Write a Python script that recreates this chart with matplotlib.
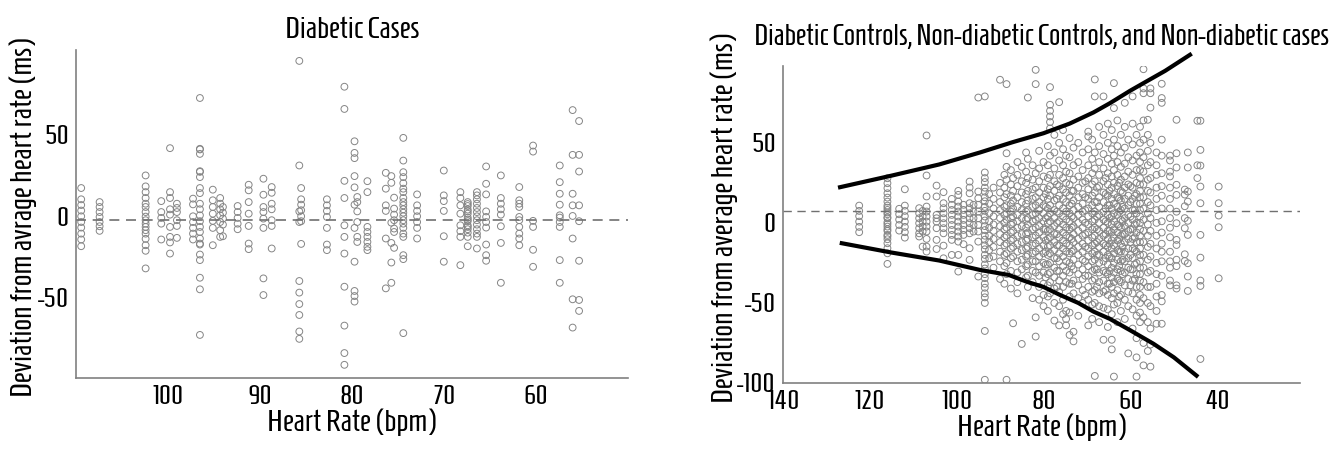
import numpy as np
import matplotlib
matplotlib.use("Agg")
import matplotlib.pyplot as plt

plt.rcParams['font.family'] = ['Homenaje', 'DejaVu Sans']
plt.rcParams['axes.unicode_minus'] = False

# Left panel: heart rate columns and the deviations read in each column
left_hr = [109.4, 107.4, 102.4, 100.7, 99.75, 99.0, 97.25, 96.5, 95.1, 94.3, 94.0,
           92.4, 91.2, 89.6, 88.7, 85.7, 85.5, 82.7, 80.8, 79.7, 79.4, 78.3,
           76.3, 75.7, 75.4, 74.4, 72.9, 70.0, 68.2, 67.4, 66.4, 65.4, 63.8,
           61.8, 60.3, 57.4, 56.0, 55.3]
left_dev = [
    [17.3, 10.4, 6.9, 3.5, 0, -3.5, -6.9, -10.6, -14.2, -18.3],
    [8.7, 5.7, 2.6, -0.4, -3.5, -6.1, -8.9],
    [25, 18.3, 14.8, 11.2, 7.7, 5.7, 2.6, -0.2, -2.4, -4.5, -6.5, -8.5, -10.6, -13.8, -17.7, -21.1, -31.9],
    [9.3, 2.6, -1, -4.5, -14.2],
    [41.7, 14.8, 11.2, 4.3, 1, -6.5, -12.6, -16, -22.8],
    [7.7, 5.1, 2.6, -2.4, -5.9, -13.2],
    [10.8, 7.3, 0, -3.5, -7.1, -10.6, -14.2],
    [72.4, 41.3, 40.9, 38.2, 27.6, 27.2, 24, 17.3, 14.2, 7.7, 4.3, 0.6, -3, -6.5, -9.6, -13.6,
     -16.7, -17.3, -23.4, -26.8, -37.6, -44.7, -72.6],
    [16.3, 9.8, 5.7, 1.6, -2.8, -7.1, -17.7],
    [11.2, 7.7, 4.3, 0.6, -3.5, -8.5, -12.6],
    [5.7, 2.2, -1.4, -5.1, -12.2],
    [6.3, 2.6, -1, -4.5, -7.9],
    [19.3, 15.9, 8.7, 1.6, -5.9, -16.7, -20.1],
    [23, 13.2, 5.7, 2.6, -1.4, -7.1, -38, -48.2],
    [17.9, 14.4, 7.7, 4.3, -2.4, -5.9, -19.7],
    [95.1, 31.1, 3, -3.5, -39.6, -46.7, -53.7, -60.4, -70.5, -75],
    [17.3, 10.4, 7.1, 3.7, 0, -3, -16.9],
    [10.4, 6.7, 3.3, -0.4, -7.1, -17.3, -20.7],
    [79.3, 65.7, 21.7, 11.2, -5.5, -12.6, -22.8, -43.1, -66.9, -83.7, -90.9],
    [45.9, 38.8, 35.6, 24.6, 17.7, 7.1, -7.1, -27.8, -45.7, -48.8, -52.2],
    [11.8, 8.7, 3, -3.5, -12.6, -15.7],
    [21.5, 14.8, -6.5, -9.6, -12.6, -15.7, -18.7, -20.7],
    [26.6, 16.9, 6.7, 3.3, -13.6, -44.1],
    [24.6, 20.5, -3.9, -16.3, -28.3, -40.7],
    [11.4, 4.7, 1, -2.4, -7.5, -9.6, -19.3],
    [48, 34.1, 27, 24, 20.3, 16.9, 14.8, 11.2, 8.7, 6.7, 4.3, 2.2, 0, -2.4, -4.5, -7.1, -10.6,
     -12.6, -23.8, -26.2, -71.5],
    [13.4, 6.7, 3.3, 0, -3.5, -7.1, -13.6],
    [28, 12.8, 9.3, 3.3, -12.2, -27.8],
    [14.8, 11.2, 6.7, 1.6, -5.5, -9.1, -12.6, -29.9],
    [8.7, 6.3, 4.1, 1.6, -0.8, -3, -5.5, -7.9, -10, -12.6, -18.3, 7.5, 3, -2, -6.5],
    [14.8, 12.8, 10.4, 7.7, 5.1, 2.6, 0, -2.4, -5.1, -7.9, -10.6, -12.6, -19.7],
    [30.5, 19.9, 13.4, 3, -0.4, -3.5, -6.9, -17.3, -23.8, -27.2],
    [25, 11.2, 7.7, 4.3, 1, -6.1, -16.3, -40.7],
    [17.9, 9.8, 7.7, 5.7, -0.4, -2.4, -6.5, -10.6, -13.6, -17.7],
    [43.3, 39.6, -2.8, -6.5, -20.5, -30.9],
    [31.1, 20.9, 13.8, 7.1, 0.6, -0.8, -3.5, -6.5, -26.8, -40.7],
    [65, 37.6, 13.8, 6.7, 0.2, -13.6, -50.8, -68.1],
    [58.3, 37.6, 27.4, 6.7, -3, -27.2, -51.2, -57.9],
]
left_mean = -2.2

# Right panel: heart rate columns and deviations
right_hr = [122.4, 115.9, 113.2, 111.9, 108.6, 107.8, 106.9, 104.6, 103.0, 101.1, 99.6,
            98.4, 97.0, 96.1, 95.0, 93.5, 92.5, 91.5, 90.0, 89.0, 88.5, 87.5, 87.0,
            86.0, 85.0, 84.0, 83.6, 82.5, 81.8, 81.0, 80.0, 79.0, 78.5, 77.5, 76.4,
            75.5, 74.8, 74.0, 73.1, 72.0, 71.0, 69.7, 68.8, 68.2, 67.2, 66.2, 65.2,
            64.3, 63.8, 63.0, 62.2, 61.3, 60.5, 59.5, 58.6, 57.8, 57.0, 56.0, 55.4,
            54.0, 52.8, 50.9, 49.4, 47.5, 46.8, 44.6, 43.9, 39.7,
            79.5, 76.9, 73.5, 70.4, 67.7, 65.7, 64.8, 62.6, 61.8, 60.0, 59.0]
right_dev = [
    [10.8, 7.5, 4.2, 0.8, -2.5, -5.8],
    [27.9, 24.8, 21.7, 18.5, 15.8, 13.3, 10.8, 8.1, 5.4, 2.9, 0.4, -2.3, -5, -7.5, -10.2,
     -12.7, -15.8, -19, -25.6, 9.5, 6.5, 3.5, -0.8, -4, -8.5],
    [8.8, 5.4, 2.1, -1.3, -4.8],
    [21, 10.8, 7.5, 4.2, 0.8, -2.5, -5.8, -9.2],
    [9.2, 6, 2.9, -0.2, -3.3, -6.5, -8.5],
    [7.5, 4, 0.8, -2.3, -5.4, -14.8],
    [54.6, 29.6, 16.5, 10.2, 7.1, 4, 0.8, -2.3, -5.4, -10, -14.8, -17.9],
    [23.3, 16.5, 5, 2.9, 0.8, -3.3, -10.6, -16.3],
    [19.2, 12.3, 9.2, 6, 2.9, -0.2, -3.3, -6.5, -14.2, -22.1],
    [15, 11.3, 8.1, 5, 1.9, -1.3, -4.4, -7.5, -10.6, -20],
    [20, 17.5, 13.3, 10.2, 7.1, 4, 0.8, -2.3, -5.4, -8.5, -11.7, -20, -30.4],
    [11.3, 8.1, 5, 1.9, -1.3, -4.4, -7.5, -13.3],
    [25.8, 22.1, 18.5, 12.3, 9.2, 6, 2.9, -0.2, -3.3, -6.5, -15.8, -23.1],
    [11.3, 7.1, 2.9, -1.3, -5.4],
    [19.6, 15.4, 11.3, 7.1, 2.9, -1.3, -5.4, -11.7, -33.5, 78.3],
    [31.5, 28, 25.5, 22, 19.5, 16, 13.5, 10, 7.5, 4, 1.5, -2, -4.5, -8, -10.5, -14, -16.5,
     -20, -22.5, -26, -28.5, -32, -34.5, -38, -40.5, -44, -46.5, -50, 79, -67.5, -98],
    [18, 12, 6, 1, -3, -8, -12, -17, -22],
    [22, 15, 9, 4, -1, -5, -10, -15, -21, -28],
    [89.4, 25, 19, 13, 8, 3, -2, -7, -12, -18, -24, -35],
    [30, 22, 16, 10, 5, 0, -4, -9, -14, -20, -27, -38],
    [86.7, 43.5, 35, 27, 18, 11, 6, 2, -3, -8, -13, -19, -25, -32, -98],
    [33, 24, 17, 12, 7, 3, -1, -6, -11, -16, -22, -30, -41],
    [-62.7, 28, 20, 14, 9, 4, 0, -5, -10, -15, -21],
    [38, 30, 23, 16, 10, 5, 1, -3, -8, -13, -18, -24, -31, -37, -44],
    [-75.6, 35, 26, 19, 13, 8, 3, -2, -7, -12, -17, -23, -29],
    [44, 32, 25, 18, 12, 7, 2, -3, -7, -11, -16, -21, -27, -34],
    [78.3, 40, 28, 20, 14, 8, 3, -1, -6, -10, -15, -20, -26, -33, -40],
    [36, 27, 21, 15, 10, 5, 1, -4, -9, -14, -19, -24, -30, -37, -47],
    [95.6, 86.7, -59, -71, 31, 22, 16, 11, 6, 2, -3, -8, -13, -18, -24, -31],
    [45, 34, 26, 19, 13, 8, 3, -2, -6, -11, -16, -21, -27, -33, -40, -48],
    [38, 29, 22, 16, 11, 6, 1, -4, -9, -14, -19, -25, -31, -38, -45, -52],
    [48, 36, 28, 21, 15, 9, 4, 0, -5, -10, -15, -20, -26, -32, -39, -46, -55],
    [84.8, 73.8, 70, 66.5, 63, 59, 42, 30, 23, 17, 11, 6, 1, -4, -9, -14, -19, -25, -31, -37, -44],
    [55, 44, 34, 26, 20, 14, 8, 3, -2, -7, -12, -17, -22, -28, -34, -41, -50, -61],
    [75.4, 50, 39, 30, 23, 17, 11, 6, 1, -4, -9, -14, -19, -24, -30, -36, -43, -52, -64],
    [58, 46, 36, 28, 21, 15, 9, 4, -1, -6, -11, -16, -21, -27, -33, -40, -48, -57],
    [-55, -60, -64, 42, 32, 25, 19, 13, 7, 2, -3, -8, -13, -18, -24, -30, -37],
    [53, 41, 31, 24, 17, 11, 6, 1, -4, -9, -14, -19, -25, -31, -38, -46, -56, -70],
    [-68, -74, 47, 36, 27, 20, 14, 8, 3, -2, -7, -12, -17, -23, -29, -36, -44],
    [50, 38, 29, 22, 16, 10, 5, 0, -5, -10, -15, -20, -26, -32, -39, -47, -58],
    [44, 33, 25, 18, 12, 7, 2, -3, -8, -13, -18, -23, -29, -35, -42, -50],
    [57, 54, -64, 46, 36, 28, 21, 15, 9, 4, -1, -6, -11, -16, -21, -27, -33, -40, -48],
    [52, 40, 31, 24, 17, 11, 6, 1, -4, -9, -14, -19, -24, -30, -36, -43, -51, -60],
    [89.6, 79, -95.6, 44, 34, 26, 19, 13, 7, 2, -3, -8, -13, -18, -23, -29, -35, -42, -50],
    [60, 48, 38, 30, 23, 16, 10, 5, 0, -5, -10, -15, -20, -25, -31, -37, -44, -52, -62],
    [79, 55, 43, 34, 26, 19, 13, 7, 2, -3, -8, -13, -18, -24, -30, -36, -43, -53, -73],
    [62, 50, 40, 31, 24, 17, 11, 5, 0, -5, -10, -15, -20, -26, -32, -38, -45, -54, -65],
    [58, 46, 37, 29, 22, 15, 9, 4, -1, -6, -11, -16, -22, -28, -34, -40, -47, -57, -73, -79],
    [87.3, 71.7, 52, 42, 33, 25, 18, 12, 6, 1, -4, -9, -14, -19, -25, -31, -37, -44, -51, -96],
    [64, 48, 38, 30, 23, 16, 10, 5, -1, -6, -11, -17, -23, -29, -35, -42, -50, -62],
    [55, 44, 35, 27, 20, 14, 8, 2, -3, -8, -13, -18, -24, -30, -37, -45, -55],
    [75, 60, 47, 37, 29, 22, 15, 9, 3, -2, -7, -12, -18, -24, -31, -39, -48, -60],
    [52, 41, 32, 24, 17, 11, 5, 0, -5, -10, -16, -22, -28, -35, -43, -52, -81.5],
    [79, 62, 49, 39, 30, 22, 15, 8, 2, -4, -10, -16, -22, -29, -36, -44, -54, -66],
    [55, 42, 33, 25, 18, 12, 6, 0, -6, -12, -18, -25, -32, -40, -48, -58, -72, -84, -96],
    [60, 50, 44, 38, 33, 28, 24, 20, 16, 12, 8, 4, 0, -4, -8, -12, -16, -20, -24, -28, -32,
     -36, -40, -45, -50, -56, -62],
    [96, 84, 81, 64, 52, 41, 32, 24, 16, 9, 2, -5, -12, -20, -28, -37, -47, -59, -75, -89],
    [64.4, 55, 45, 36, 27, 20, 13, 6, -1, -8, -15, -23, -31, -40, -50, -62, -80],
    [72, 84, 81, 50, 38, 28, 19, 11, 3, -5, -13, -21, -30, -40, -52, -66, -76, -89.8],
    [44, 36, 30, 22, 15, 8, 0, -8, -16, -25, -32, -38, -46, -55, -63],
    [86.9, 78, 75, 52, 42, 31, 23, 17, 9, 1, -6, -13, -18, -24, -33, -45, -49, -63],
    [42, 39, 32, 29, 22, 15, 9, 3, -3, -9, -18, -24, -28, -36, -39],
    [64.4, 43.5, 34.6, 23.8, 17.5, 7, -0.2, -10.6, -13.8, -23, -27, -39, -41],
    [20.8, 17.7, 10.4, 3, -3.3, -19.6, -23.8],
    [44, 34.6, 19.6, 13.3, 1.3, -7.5, -25.2, -33.5, -42.5],
    [63.8, 36, 28],
    [63.8, 45.6, 35.8, 22.7, 12.3, -7.5, -21.7, -36, -39.4, -85],
    [22.7, 12.3, 4.6, -2.7, -34.6],
    # extra points in the crowded core
    [18, 10, 3, -4, -11, -18, -26, -34],
    [24, 15, 7, 0, -7, -14, -22, -30, -40],
    [20, 12, 4, -3, -10, -18, -27, -38],
    [26, 16, 8, 0, -7, -15, -24, -33, -45],
    [22, 13, 4, -4, -12, -20, -29, -40],
    [28, 18, 9, 1, -7, -14, -22, -31, -42],
    [20, 11, 3, -5, -13, -21, -30, -38],
    [25, 15, 7, -2, -10, -18, -27, -36, -46],
    [19, 10, 1, -7, -15, -23, -32],
    [23, 13, 4, -4, -12, -20, -29, -39],
    [17, 8, -1, -9, -17, -26, -35],
]
right_mean = 7.5

# limits of agreement curves
upper_hr = [126.8, 115, 104, 94.6, 87, 80, 74, 68.5, 64.7, 60.1, 57, 52, 46.3]
upper_dev = [22.3, 29.5, 36.5, 44, 50.5, 56, 62, 69, 74.8, 82.5, 87.3, 95, 105]
lower_hr = [126.4, 115, 104, 94.6, 88, 83.9, 80, 76.2, 72, 68.5, 64.7, 60.1, 54.7, 50, 44.8]
lower_dev = [-12.7, -18.5, -23.5, -29.4, -32.5, -36.7, -40, -45, -50, -55.4, -60, -67, -75.5, -84, -95.4]

left_xticks = [100, 90, 80, 70, 60]
left_yticks = [50, 0, -50]
right_xticks = [140, 120, 100, 80, 60, 40]
right_yticks = [50, 0, -50, -100]


def flatten(hr, dev):
    xs = np.concatenate([np.full(len(d), h) for h, d in zip(hr, dev)])
    ys = np.concatenate([np.array(d, dtype=float) for d in dev])
    return xs, ys


def style_axes(ax):
    for s in ['top', 'right']:
        ax.spines[s].set_visible(False)
    for s in ['left', 'bottom']:
        ax.spines[s].set_color('#808080')
        ax.spines[s].set_linewidth(1.2)
    ax.tick_params(length=0, labelsize=19, pad=5)


fig = plt.figure(figsize=(13.37, 4.49), dpi=100)

# left panel
ax1 = fig.add_axes([0.0566, 0.158, 0.413, 0.730])
x1, y1 = flatten(left_hr, left_dev)
ax1.scatter(x1, y1, s=24, facecolors='none', edgecolors='#858585', linewidths=0.7)
ax1.axhline(left_mean, color='#707070', linestyle=(0, (6, 4)), linewidth=1.2)
ax1.set_xlim(110, 50)
ax1.set_ylim(-99, 101.6)
ax1.set_xticks(left_xticks)
ax1.set_yticks(left_yticks)
style_axes(ax1)
ax1.set_title('Diabetic Cases', fontsize=22, pad=9)
ax1.set_xlabel('Heart Rate (bpm)', fontsize=22, labelpad=0)
ax1.set_ylabel('Deviation from avrage heart rate (ms)', fontsize=22)
ax1.yaxis.set_label_coords(-0.07, 0.49)

# right panel
ax2 = fig.add_axes([0.5854, 0.147, 0.3869, 0.706])
x2, y2 = flatten(right_hr, right_dev)
ax2.scatter(x2, y2, s=24, facecolors='none', edgecolors='#858585', linewidths=0.7)
ax2.axhline(right_mean, color='#707070', linestyle=(0, (6, 4)), linewidth=1.0)
ax2.plot(upper_hr, upper_dev, color='black', linewidth=3, clip_on=False)
ax2.plot(lower_hr, lower_dev, color='black', linewidth=3, clip_on=False)
ax2.set_xlim(140, 21)
ax2.set_ylim(-100, 98)
ax2.set_xticks(right_xticks)
ax2.set_yticks(right_yticks)
style_axes(ax2)
ax2.set_title('Diabetic Controls, Non-diabetic Controls, and Non-diabetic cases',
              fontsize=21, pad=15)
ax2.set_xlabel('Heart Rate (bpm)', fontsize=22, labelpad=0)
ax2.set_ylabel('Deviation from average heart rate (ms)', fontsize=22)
ax2.yaxis.set_label_coords(-0.086, 0.52)

fig.savefig('out.png', dpi=100)
